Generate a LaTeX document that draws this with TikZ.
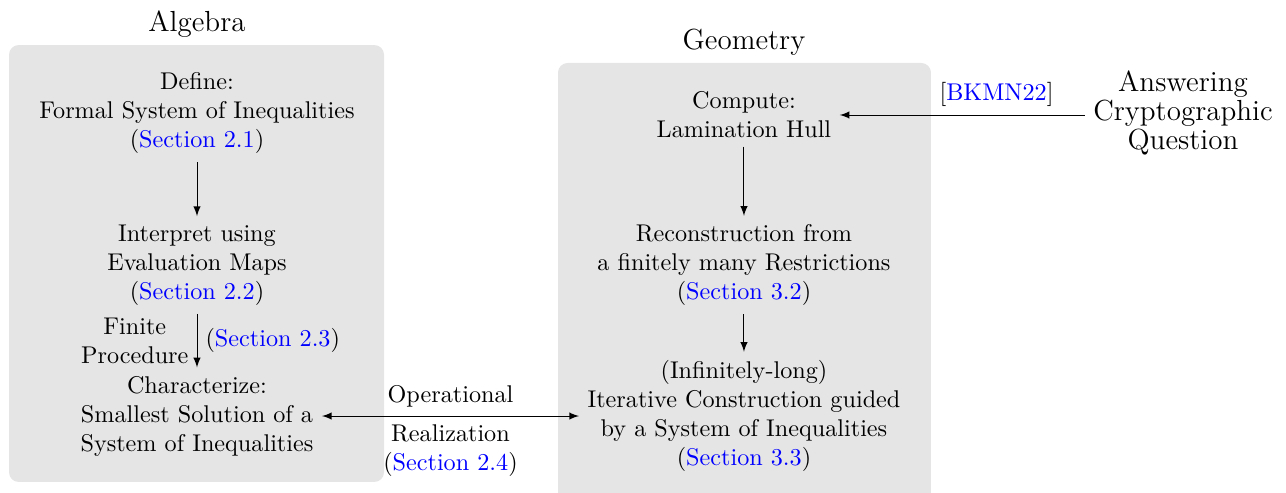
\documentclass[tikz,border=0pt]{standalone}
\usepackage{xcolor}
\usetikzlibrary{positioning,calc,backgrounds}

\newcommand{\secref}[1]{(\textcolor{blue}{Section~#1})}

\begin{document}
\begin{tikzpicture}[
		every node/.style={align=center},
		arr/.style={-latex},
		area/.style={fill=gray!20, rounded corners=4pt}
	]
		\useasboundingbox (0,0) rectangle (18.677,-7.160);

		% algebra column
		\node (define) at (2.861,-1.642) {Define:\\ Formal System of Inequalities\\ \secref{2.1}};
		\node (interpret) at (2.861,-3.849) {Interpret using\\ Evaluation Maps\\ \secref{2.2}};
		\node (characterize) at (2.861,-6.042) {Characterize:\\ Smallest Solution of a\\ System of Inequalities};

		% geometry column
		\node (compute) at (10.805,-1.670) {Compute:\\ Lamination Hull};
		\node (reconstruct) at (10.805,-3.849) {Reconstruction from\\ a finitely many Restrictions\\ \secref{3.2}};
		\node (iterative) at (10.805,-6.042) {(Infinitely-long)\\ Iterative Construction guided\\ by a System of Inequalities\\ \secref{3.3}};

		\node (answer) at (17.181,-1.642) {{\large Answering}\\ {\large Cryptographic}\\ {\large Question}};

		% group titles
		\node[font=\large] (algebra) at (2.861,-0.350) {Algebra};
		\node[font=\large] (geometry) at (10.805,-0.611) {Geometry};

		% arrows
		\draw[arr] (define) -- (interpret);
		\draw[arr] (interpret) -- node[left] {Finite\\ Procedure} node[right] {\secref{2.3}} (characterize);
		\draw[arr] (compute) -- (reconstruct);
		\draw[arr] (reconstruct) -- (iterative);
		\draw[latex-latex] (characterize) -- node[above] {Operational} node[below] {Realization\\ \secref{2.4}} (iterative);
		\draw[arr] (answer.west |- compute) -- node[above, pos=0.36] {[\textcolor{blue}{BKMN22}]} (compute);

		% grey areas
		\begin{scope}[on background layer]
			\fill[area] (0.131,-0.654) rectangle (5.577,-7.000);
			\fill[area] (8.104,-0.915) rectangle (13.521,-7.300);
		\end{scope}
	\end{tikzpicture}
\end{document}
